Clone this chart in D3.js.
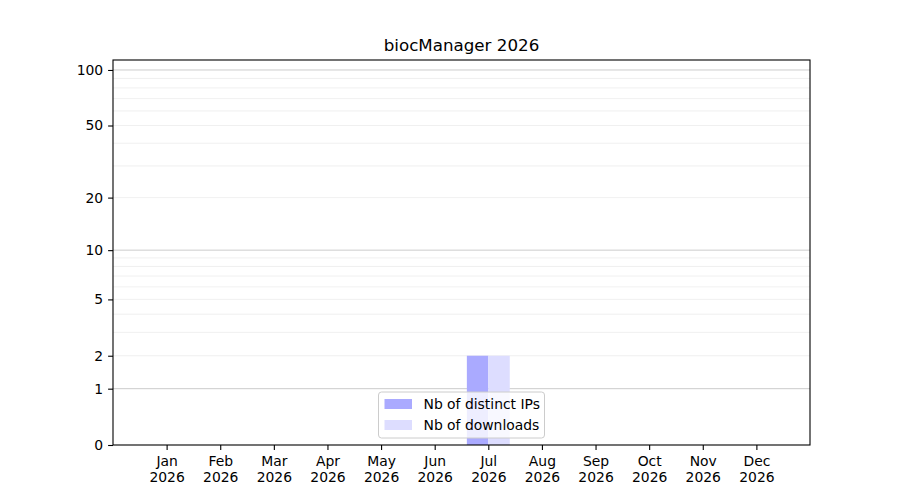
<!DOCTYPE html>
<html>
<head>
<meta charset="utf-8">
<script src="https://cdn.jsdelivr.net/npm/d3@7.9.0/dist/d3.min.js"></script>
<style>
  body { margin: 0; background: #fff; }
  svg { font-family: "DejaVu Sans", sans-serif; }
</style>
</head>
<body>
<svg id="chart" width="900" height="500"></svg>
<script>
const months = ['Jan', 'Feb', 'Mar', 'Apr', 'May', 'Jun', 'Jul', 'Aug', 'Sep', 'Oct', 'Nov', 'Dec'];
const year = '2026';
const distinctIPs = [0, 0, 0, 0, 0, 0, 2, 0, 0, 0, 0, 0];
const downloads = [0, 0, 0, 0, 0, 0, 2, 0, 0, 0, 0, 0];
const yTicks = [0, 1, 2, 5, 10, 20, 50, 100];
const majorGrid = [1, 10, 100];
const minorGrid = [2, 3, 4, 5, 6, 7, 8, 9, 20, 30, 40, 50, 60, 70, 80, 90];

const margin = { top: 60, right: 90, bottom: 55, left: 113 };
const width = 900, height = 500;

const svg = d3.select('#chart');

const x = d3.scaleLinear().domain([-1, 12]).range([margin.left, width - margin.right]);
const y = d3.scaleSymlog().constant(1).domain([0, 113.2]).range([height - margin.bottom, margin.top]);

const barW = 0.4;

// grid lines
svg.append('g').selectAll('line').data(minorGrid).join('line')
    .attr('x1', margin.left).attr('x2', width - margin.right)
    .attr('y1', d => y(d)).attr('y2', d => y(d))
    .attr('stroke', '#ececec').attr('stroke-width', 0.8);

svg.append('g').selectAll('line').data(majorGrid).join('line')
    .attr('x1', margin.left).attr('x2', width - margin.right)
    .attr('y1', d => y(d)).attr('y2', d => y(d))
    .attr('stroke', '#cccccc').attr('stroke-width', 1);

// bars
svg.append('g').selectAll('rect').data(distinctIPs).join('rect')
    .attr('x', (d, i) => x(i - barW))
    .attr('width', x(barW) - x(0))
    .attr('y', d => y(d))
    .attr('height', d => y(0) - y(d))
    .attr('fill', '#aaaaff');

svg.append('g').selectAll('rect').data(downloads).join('rect')
    .attr('x', (d, i) => x(i))
    .attr('width', x(barW) - x(0))
    .attr('y', d => y(d))
    .attr('height', d => y(0) - y(d))
    .attr('fill', '#ddddff');

// y axis
const yAxis = d3.axisLeft(y).tickValues(yTicks).tickFormat(d3.format('d')).tickSize(4.9).tickPadding(4.9);
const gy = svg.append('g').attr('transform', `translate(${margin.left},0)`).call(yAxis);
gy.select('.domain').remove();
gy.selectAll('line').attr('stroke', '#000').attr('stroke-width', 1.1);
gy.selectAll('text').attr('font-size', 13.9).attr('fill', '#000').attr('font-family', 'DejaVu Sans');

// x axis
const xAxis = d3.axisBottom(x).tickValues(d3.range(months.length)).tickFormat('').tickSize(4.9);
const gx = svg.append('g').attr('transform', `translate(0,${height - margin.bottom})`).call(xAxis);
gx.select('.domain').remove();
gx.selectAll('line').attr('stroke', '#000').attr('stroke-width', 1.1);
gx.selectAll('.tick').each(function(d) {
    const t = d3.select(this).append('text')
        .attr('fill', '#000').attr('font-size', 13.9).attr('text-anchor', 'middle')
        .attr('font-family', 'DejaVu Sans');
    t.append('tspan').attr('x', 0).attr('y', 21).text(months[d]);
    t.append('tspan').attr('x', 0).attr('y', 37).text(year);
});

// frame
svg.append('rect')
    .attr('x', margin.left).attr('y', margin.top)
    .attr('width', width - margin.left - margin.right)
    .attr('height', height - margin.top - margin.bottom)
    .attr('fill', 'none').attr('stroke', '#000').attr('stroke-width', 1.1);

// title
svg.append('text')
    .attr('x', (margin.left + width - margin.right) / 2).attr('y', 51)
    .attr('text-anchor', 'middle').attr('font-size', 16.7)
    .text('biocManager ' + year);

// legend
const legendItems = [
    { label: 'Nb of distinct IPs', color: '#aaaaff' },
    { label: 'Nb of downloads', color: '#ddddff' }
];
const legW = 166, legH = 46;
const legX = (margin.left + width - margin.right) / 2 - legW / 2;
const legY = height - margin.bottom - 7 - legH;
const leg = svg.append('g').attr('transform', `translate(${legX},${legY})`);
leg.append('rect')
    .attr('width', legW).attr('height', legH).attr('rx', 3)
    .attr('fill', 'rgba(255,255,255,0.8)').attr('stroke', '#cccccc').attr('stroke-width', 1);
legendItems.forEach((d, i) => {
    leg.append('rect')
        .attr('x', 6).attr('y', 7 + i * 21)
        .attr('width', 27.5).attr('height', 10)
        .attr('fill', d.color);
    leg.append('text')
        .attr('x', 45).attr('y', 17 + i * 21)
        .attr('font-size', 13.9)
        .text(d.label);
});
</script>
</body>
</html>
